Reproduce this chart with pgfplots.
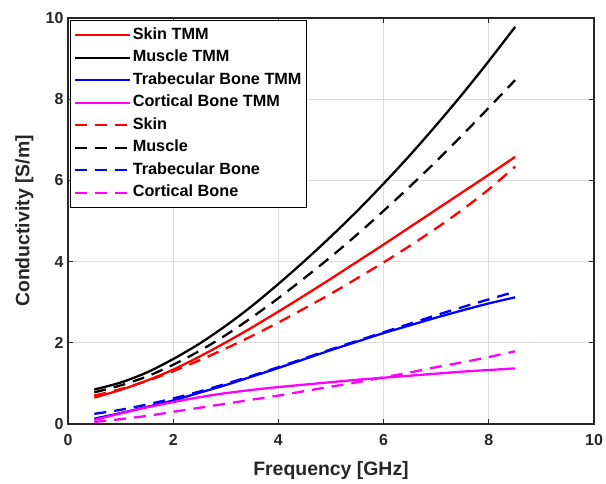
\documentclass[border=0pt]{standalone}
\usepackage{pgfplots}
\pgfplotsset{compat=1.18}
\usepackage{fontspec}
\setmainfont{Liberation Sans}
\definecolor{mag}{rgb}{1,0,1}
\definecolor{frame}{rgb}{0.15,0.15,0.15}
\begin{document}
\begin{tikzpicture}
\begin{axis}[
  name=ax,
  scale only axis,
  width=526bp, height=406bp,
  xmin=0, xmax=10, ymin=0, ymax=10,
  xtick={0,2,...,10}, ytick={0,2,...,10},
  grid=major,
  major grid style={draw=black!13, line width=1.2pt},
  axis line style={draw=frame, line width=1.5pt},
  tick style={draw=frame, line width=1.2pt},
  tick align=inside,
  tick pos=both,
  major tick length=5bp,
  ticklabel style={font=\fontsize{16}{18}\selectfont\bfseries, text=frame},
  xticklabel style={yshift=-7bp},
  yticklabel style={xshift=-1bp},
  /pgf/number format/assume math mode=true,
  xlabel={Frequency [GHz]}, ylabel={Conductivity [S/m]},
  label style={font=\fontsize{19.5}{21}\selectfont\bfseries, text=frame},
  xlabel style={at={(axis description cs:0.5,-0.115)}, anchor=center},
  ylabel style={at={(axis description cs:-0.083,0.5)}, anchor=center},
  legend style={at={(axis description cs:0,1)}, xshift=2bp, yshift=-2bp,
    anchor=north west, draw=black, line width=1pt,
    font=\fontsize{16.3}{18}\selectfont\bfseries, row sep=4bp,
    inner xsep=3bp, inner ysep=5.5bp,
    nodes={inner sep=2bp, text height=11.5bp, text depth=3bp},
    cells={anchor=west}},
  legend image code/.code={\draw[#1] (0bp,0bp) -- (55bp,0bp);},
  every axis plot/.append style={line width=2.3pt, smooth},
]
\addplot[red] coordinates {(0.5,0.65) (1,0.84) (1.5,1.07) (2,1.34) (2.5,1.66) (3,2.01) (3.5,2.38) (4,2.77) (4.5,3.17) (5,3.58) (5.5,4.0) (6,4.42) (6.5,4.85) (7,5.28) (7.5,5.71) (8,6.14) (8.5,6.58)};
\addlegendentry{Skin TMM}
\addplot[black] coordinates {(0.5,0.85) (1,1.02) (1.5,1.27) (2,1.60) (2.5,1.98) (3,2.42) (3.5,2.91) (4,3.45) (4.5,4.02) (5,4.62) (5.5,5.25) (6,5.92) (6.5,6.62) (7,7.36) (7.5,8.13) (8,8.94) (8.5,9.78)};
\addlegendentry{Muscle TMM}
\addplot[blue] coordinates {(0.5,0.13) (1,0.27) (1.5,0.42) (2,0.58) (2.5,0.77) (3,0.96) (3.5,1.17) (4,1.38) (4.5,1.6) (5,1.82) (5.5,2.03) (6,2.24) (6.5,2.43) (7,2.62) (7.5,2.8) (8,2.97) (8.5,3.12)};
\addlegendentry{Trabecular Bone TMM}
\addplot[mag] coordinates {(0.5,0.1) (1,0.26) (1.5,0.41) (2,0.54) (2.5,0.66) (3,0.76) (3.5,0.84) (4,0.91) (4.5,0.97) (5,1.03) (5.5,1.09) (6,1.14) (6.5,1.19) (7,1.24) (7.5,1.29) (8,1.33) (8.5,1.37)};
\addlegendentry{Cortical Bone TMM}
\addplot[red, dash pattern=on 12bp off 8bp] coordinates {(0.5,0.7) (1,0.86) (1.5,1.06) (2,1.3) (2.5,1.57) (3,1.86) (3.5,2.17) (4,2.5) (4.5,2.85) (5,3.21) (5.5,3.59) (6,3.98) (6.5,4.39) (7,4.82) (7.5,5.28) (8,5.78) (8.5,6.34)};
\addlegendentry{Skin}
\addplot[black, dash pattern=on 12bp off 8bp] coordinates {(0.5,0.78) (1,0.95) (1.5,1.17) (2,1.46) (2.5,1.8) (3,2.19) (3.5,2.63) (4,3.1) (4.5,3.6) (5,4.12) (5.5,4.67) (6,5.25) (6.5,5.85) (7,6.47) (7.5,7.12) (8,7.79) (8.5,8.47)};
\addlegendentry{Muscle}
\addplot[blue, dash pattern=on 12bp off 8bp] coordinates {(0.5,0.25) (1,0.35) (1.5,0.48) (2,0.63) (2.5,0.8) (3,0.99) (3.5,1.19) (4,1.4) (4.5,1.62) (5,1.84) (5.5,2.05) (6,2.26) (6.5,2.47) (7,2.68) (7.5,2.88) (8,3.07) (8.5,3.26)};
\addlegendentry{Trabecular Bone}
\addplot[mag, dash pattern=on 12bp off 8bp] coordinates {(0.5,0.05) (1,0.12) (1.5,0.2) (2,0.3) (2.5,0.4) (3,0.5) (3.5,0.6) (4,0.7) (4.5,0.81) (5,0.92) (5.5,1.03) (6,1.15) (6.5,1.27) (7,1.4) (7.5,1.52) (8,1.65) (8.5,1.79)};
\addlegendentry{Cortical Bone}
\end{axis}
\pgfresetboundingbox
\path[use as bounding box] ([xshift=-68bp,yshift=-60bp]ax.south west) rectangle ([xshift=12bp,yshift=18bp]ax.north east);
\end{tikzpicture}
\end{document}
